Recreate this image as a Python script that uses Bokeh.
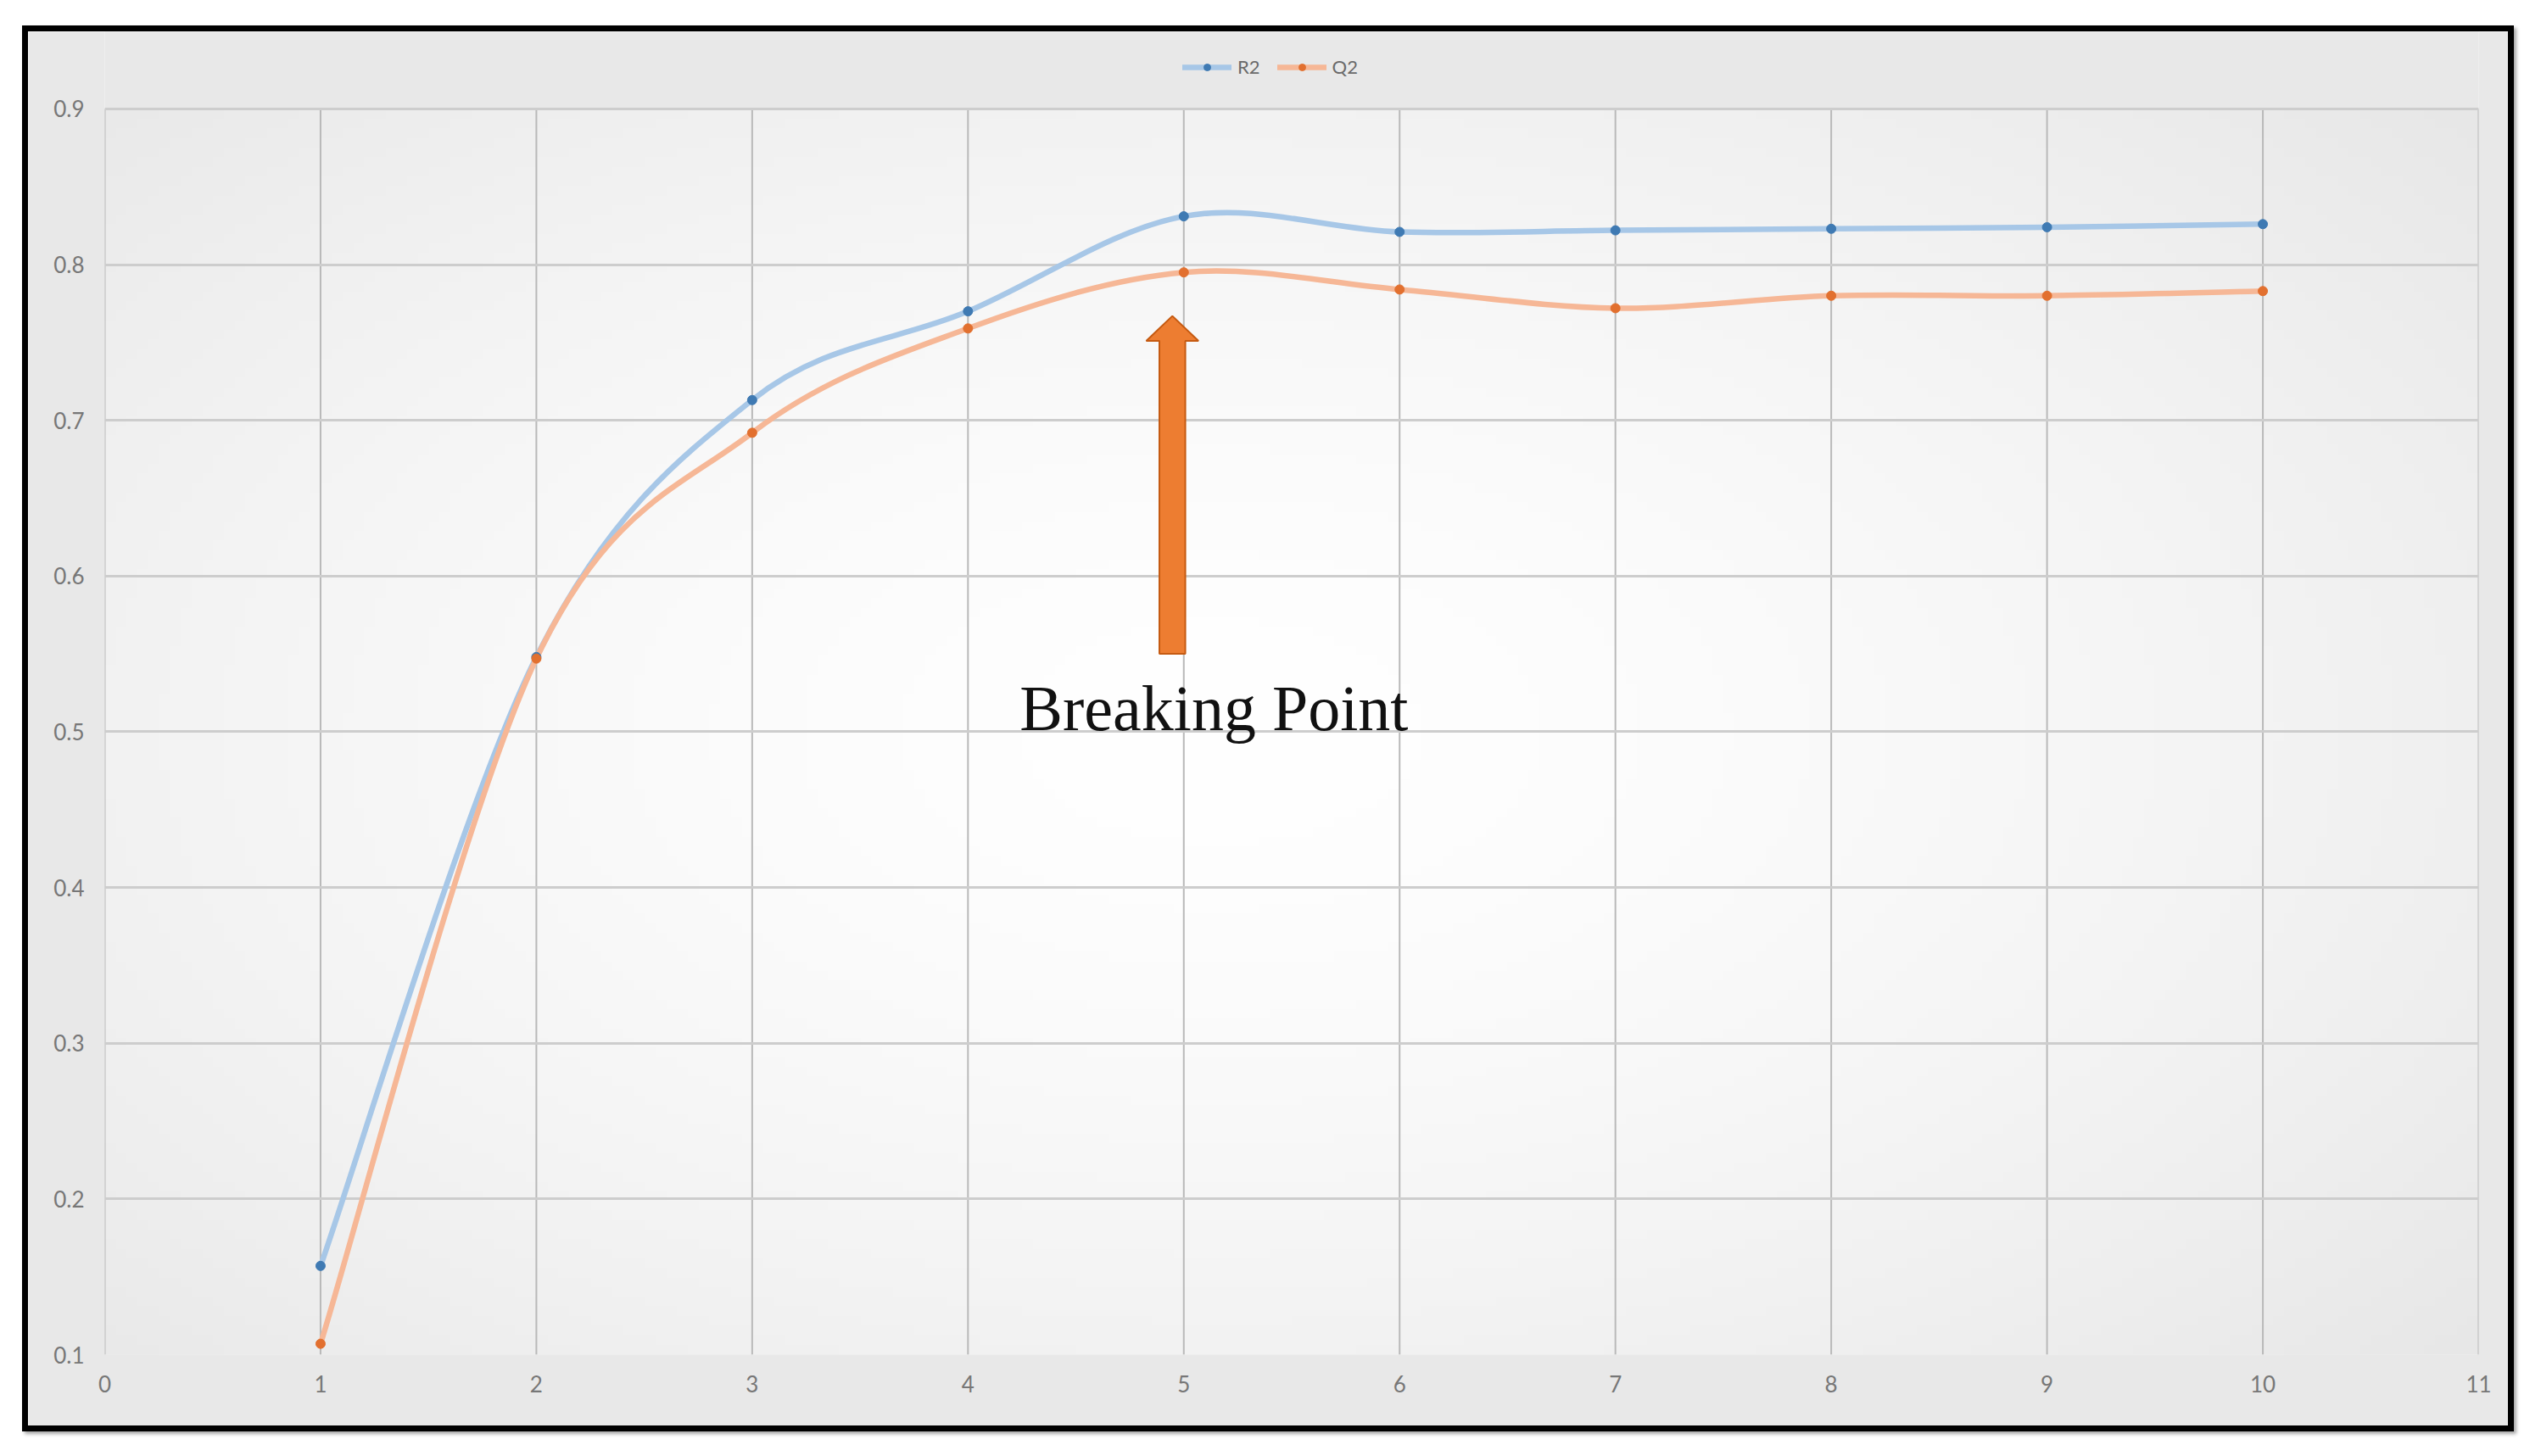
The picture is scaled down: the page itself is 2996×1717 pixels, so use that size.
import numpy as np
from bokeh.plotting import figure
from bokeh.layouts import column, row
from bokeh.models import (ColumnDataSource, FixedTicker, Legend, LegendItem, Label, Range1d, Spacer)
from bokeh.embed import file_html
from bokeh.resources import INLINE

# ---- data ----
x_vals = [1, 2, 3, 4, 5, 6, 7, 8, 9, 10]
r2_vals = [0.157, 0.548, 0.713, 0.770, 0.831, 0.821, 0.822, 0.823, 0.824, 0.826]
q2_vals = [0.107, 0.547, 0.692, 0.759, 0.795, 0.784, 0.772, 0.780, 0.780, 0.783]
x_ticks = list(range(0, 12))
y_ticks = [0.1, 0.2, 0.3, 0.4, 0.5, 0.6, 0.7, 0.8, 0.9]
series_names = ["R2", "Q2"]
annotation_text = "Breaking Point"

# ---- style ----
R2_LINE = "#a7c7e7"
R2_MARK = "#3f7ab3"
Q2_LINE = "#f6b796"
Q2_MARK = "#e2702f"
ARROW_FILL = "#ed7d31"
ARROW_EDGE = "#c55a11"
CHART_BG = "#e8e8e8"

X_MIN, X_MAX = x_ticks[0], x_ticks[-1]
Y_MIN, Y_MAX = y_ticks[0], y_ticks[-1]
FRAME_H = 1562          # frame height in px (includes the legend strip above the plot area)
PLOT_H = 1471           # height of the 0.1..0.9 plot area in px
Y_TOP = Y_MIN + (Y_MAX - Y_MIN) * FRAME_H / PLOT_H


def smooth_segments(xs, ys):
    """Excel-like smoothed line: cubic Bezier segments through the data points."""
    pts = np.column_stack([xs, ys]).astype(float)
    n = len(pts)
    cols = {k: [] for k in ["x0", "y0", "x1", "y1", "cx0", "cy0", "cx1", "cy1"]}
    for i in range(n - 1):
        p0 = pts[i - 1] if i > 0 else pts[i]
        p1 = pts[i]
        p2 = pts[i + 1]
        p3 = pts[i + 2] if i + 2 < n else pts[i + 1]
        c1 = p1 + (p2 - p0) / 6.0
        c2 = p2 - (p3 - p1) / 6.0
        cols["x0"].append(p1[0]); cols["y0"].append(p1[1])
        cols["x1"].append(p2[0]); cols["y1"].append(p2[1])
        cols["cx0"].append(c1[0]); cols["cy0"].append(c1[1])
        cols["cx1"].append(c2[0]); cols["cy1"].append(c2[1])
    return ColumnDataSource(cols)


p = figure(width=2938, height=1658, output_backend="svg", toolbar_location=None,
           x_range=Range1d(X_MIN, X_MAX), y_range=Range1d(Y_MIN, Y_TOP),
           min_border_left=90, min_border_right=49, min_border_top=0, min_border_bottom=98)

p.styles = {"border": "7px solid #000000",
            "box-shadow": "3px 3px 4px rgba(0,0,0,0.35)"}
p.border_fill_color = CHART_BG
p.background_fill_color = CHART_BG
p.outline_line_color = None

# radial-gradient background of the plot area (decoration)
gw, gh = 220, 130
gx = np.linspace(0, 1, gw)[None, :]
gy = np.linspace(0, 1, gh)[:, None]
dist = np.sqrt(((gx - 0.47) / 0.75) ** 2 + ((gy - 0.5) / 0.8) ** 2)
shade = np.clip(255 - 26 * dist ** 1.5, 226, 255).astype(np.uint32)
img = (255 << 24) | (shade << 16) | (shade << 8) | shade
p.image_rgba(image=[img.astype(np.uint32)], x=X_MIN, y=Y_MIN, dw=X_MAX - X_MIN, dh=Y_MAX - Y_MIN,
             level="image")

# axes
for ax in (p.xaxis[0], p.yaxis[0]):
    ax.axis_line_color = None
    ax.major_tick_line_color = None
    ax.minor_tick_line_color = None
    ax.major_label_text_font = "Lato"
    ax.major_label_text_font_size = "26px"
    ax.major_label_text_color = "#777777"
p.xaxis.ticker = FixedTicker(ticks=x_ticks)
p.yaxis.ticker = FixedTicker(ticks=y_ticks)
p.xaxis.major_label_standoff = 18
p.yaxis.major_label_standoff = 18

# grid: horizontal lines by the grid, vertical lines limited to the plot area
p.xgrid.grid_line_color = None
p.ygrid.ticker = FixedTicker(ticks=y_ticks)
p.ygrid.grid_line_color = "#cdcdcd"
p.ygrid.grid_line_width = 3
p.segment(x0=x_ticks, y0=[Y_MIN] * len(x_ticks), x1=x_ticks, y1=[Y_MAX] * len(x_ticks),
          line_color="#b9b9b9", line_width=2, level="underlay")

# series
r2_src = smooth_segments(x_vals, r2_vals)
q2_src = smooth_segments(x_vals, q2_vals)
r2_line = p.bezier(x0="x0", y0="y0", x1="x1", y1="y1", cx0="cx0", cy0="cy0", cx1="cx1", cy1="cy1",
                   source=r2_src, line_color=R2_LINE, line_width=6.5, line_cap="round")
q2_line = p.bezier(x0="x0", y0="y0", x1="x1", y1="y1", cx0="cx0", cy0="cy0", cx1="cx1", cy1="cy1",
                   source=q2_src, line_color=Q2_LINE, line_width=6.5, line_cap="round")
r2_pts = p.scatter(x=x_vals, y=r2_vals, size=11, marker="circle", fill_color=R2_MARK, line_color=R2_MARK)
q2_pts = p.scatter(x=x_vals, y=q2_vals, size=11, marker="circle", fill_color=Q2_MARK, line_color=Q2_MARK)

# arrow annotation (block arrow pointing at the breaking point)
AX, A_TIP, A_HEAD, A_BOTTOM = 4.947, 0.767, 0.751, 0.550
A_SHAFT, A_HEADW = 0.060, 0.121
p.patch(x=[AX, AX + A_HEADW, AX + A_SHAFT, AX + A_SHAFT, AX - A_SHAFT, AX - A_SHAFT, AX - A_HEADW],
        y=[A_TIP, A_HEAD, A_HEAD, A_BOTTOM, A_BOTTOM, A_HEAD, A_HEAD],
        fill_color=ARROW_FILL, line_color=ARROW_EDGE, line_width=2)

p.add_layout(Label(x=5.14, y=0.515, text=annotation_text, text_align="center",
                   text_baseline="alphabetic", text_font="Liberation Serif",
                   text_font_size="76px", text_color="#111111"))

legend = Legend(items=[LegendItem(label=series_names[0], renderers=[r2_line, r2_pts]),
                       LegendItem(label=series_names[1], renderers=[q2_line, q2_pts])],
                orientation="horizontal", location=(1271, FRAME_H - 57))
legend.glyph_width = 58
legend.glyph_height = 20
legend.label_text_font = "Lato"
legend.label_text_font_size = "22px"
legend.label_text_color = "#6a6a6a"
legend.label_standoff = 7
legend.spacing = 20
legend.padding = 0
legend.margin = 0
legend.border_line_color = None
legend.background_fill_alpha = 0
p.add_layout(legend)

page = column(Spacer(height=30), row(Spacer(width=26), p))
open("out.html", "w").write(file_html(page, INLINE))
